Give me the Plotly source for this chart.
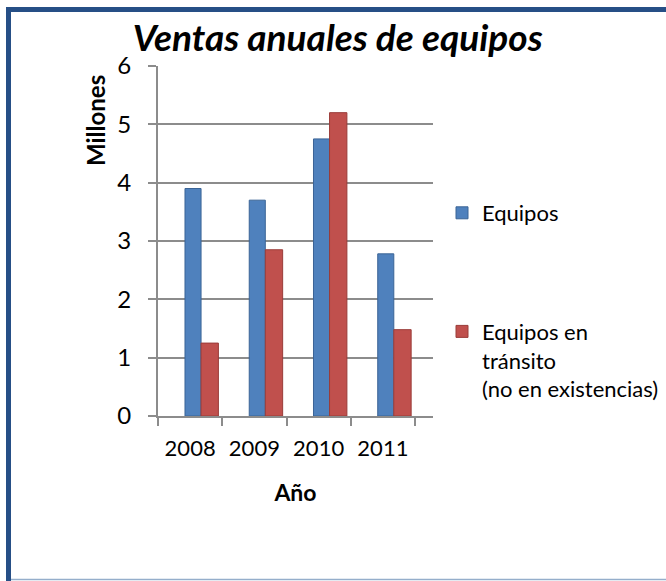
import plotly.graph_objects as go

years = ["2008", "2009", "2010", "2011"]
equipos = [3.9, 3.7, 4.75, 2.78]
transito = [1.25, 2.85, 5.2, 1.48]
y_ticks = [0, 1, 2, 3, 4, 5, 6]

W, H = 666, 581
L, R = 158, 433          # plot area left/right pixels
T, B = 66, 416           # plot area top/bottom pixels
FONT = "Lato"

def px_x(p):
    return (p - L) / (R - L)

def px_y(q):
    return (B - q) / (B - T)

fig = go.Figure()
fig.add_trace(go.Bar(
    x=years, y=equipos, name="Equipos",
    marker=dict(color="#4F81BD", line=dict(color="#3B6496", width=1)),
    width=0.25, offset=-0.08, legendgroup="a",
))
fig.add_trace(go.Bar(
    x=years, y=transito, name="Equipos en<br>tránsito<br>(no en existencias)",
    marker=dict(color="#C0504D", line=dict(color="#9A3C39", width=1)),
    width=0.27, offset=0.17, legendgroup="b",
))

shapes = [
    dict(type="rect", xref="paper", yref="paper",
         x0=px_x(6), x1=px_x(11), y0=px_y(581), y1=px_y(7),
         fillcolor="#264F86", line=dict(width=0), layer="above"),
    dict(type="rect", xref="paper", yref="paper",
         x0=px_x(6), x1=px_x(666), y0=px_y(12), y1=px_y(7),
         fillcolor="#264F86", line=dict(width=0), layer="above"),
    dict(type="line", xref="paper", yref="paper",
         x0=px_x(11), x1=px_x(666), y0=px_y(579.5), y1=px_y(579.5),
         line=dict(color="#95AECB", width=1.5), layer="above"),
]

fig.update_layout(
    width=W, height=H,
    margin=dict(l=L, r=W - R, t=T, b=H - B, pad=0, autoexpand=False),
    paper_bgcolor="white", plot_bgcolor="white",
    barmode="group",
    font=dict(family=FONT, color="black", size=22),
    title=dict(
        text="Ventas anuales de equipos",
        font=dict(family=FONT, size=37, weight="bold", style="italic", color="black"),
        x=0.507, xref="container", xanchor="center",
        y=1 - 38 / H, yref="container", yanchor="middle",
    ),
    xaxis=dict(
        type="category", range=[-0.5, 3.78],
        automargin=False, tickangle=0,
        showline=True, linecolor="#8C8C8C", linewidth=2,
        ticks="outside", tickson="boundaries", ticklen=8, tickcolor="#8C8C8C", tickwidth=2,
        ticklabelstandoff=12,
        tickfont=dict(size=22, family=FONT),
        showgrid=False,
        title=dict(text="<b>Año</b>", font=dict(size=23, family=FONT), standoff=24),
    ),
    yaxis=dict(
        range=[0, 6], tickvals=y_ticks,
        automargin=False,
        showline=True, linecolor="#8C8C8C", linewidth=2,
        ticks="outside", ticklen=8, tickcolor="#8C8C8C", tickwidth=2,
        ticklabelstandoff=12,
        tickfont=dict(size=24, family=FONT),
        showgrid=True, gridcolor="#8C8C8C", gridwidth=2,
        zeroline=False,
    ),
    legend=dict(
        x=px_x(442), y=px_y(192), xanchor="left", yanchor="top",
        xref="paper", yref="paper",
        font=dict(size=22, family=FONT),
        tracegroupgap=87, valign="top",
        bgcolor="rgba(0,0,0,0)",
    ),
    annotations=[
        dict(text="<b>Millones</b>", textangle=-90, showarrow=False,
             xref="paper", yref="paper", x=px_x(95), y=px_y(121),
             xanchor="center", yanchor="middle",
             font=dict(size=24, family=FONT, color="black")),
    ],
    shapes=shapes,
    showlegend=True,
)

fig.write_html(
    "out.html",
    config={"displayModeBar": False},
    post_script="document.body.style.margin='0';document.body.style.overflow='hidden';",
)
